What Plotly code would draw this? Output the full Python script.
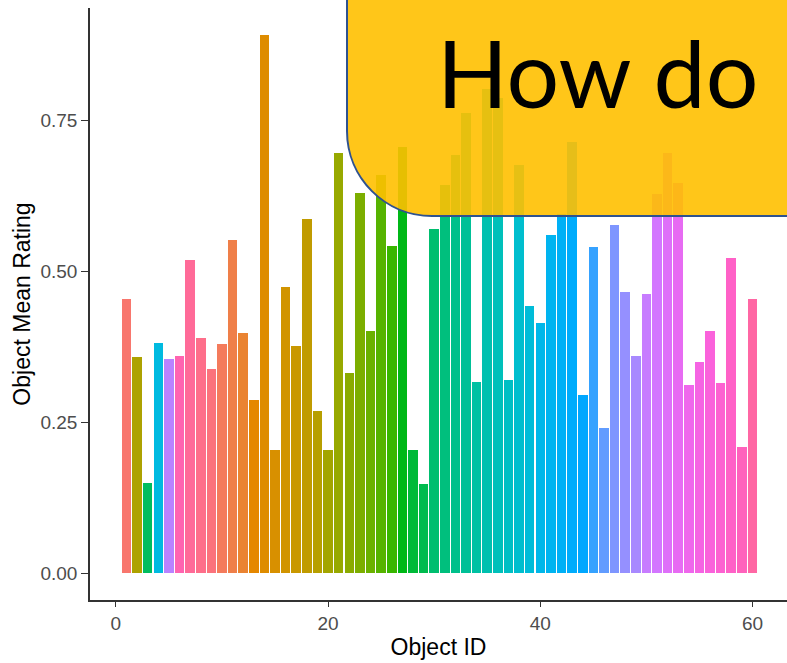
import math
import plotly.graph_objects as go

# Per-object mean ratings (objects 1..60)
object_ids = list(range(1, 61))
mean_rating = [
    0.454, 0.357, 0.150, 0.381, 0.354, 0.360, 0.519, 0.390, 0.338, 0.379,
    0.551, 0.398, 0.287, 0.891, 0.204, 0.473, 0.376, 0.587, 0.269, 0.204,
    0.695, 0.331, 0.630, 0.401, 0.659, 0.541, 0.705, 0.204, 0.147, 0.570,
    0.643, 0.692, 0.762, 0.317, 0.802, 0.787, 0.320, 0.676, 0.443, 0.414,
    0.560, 0.595, 0.714, 0.295, 0.540, 0.241, 0.576, 0.465, 0.360, 0.462,
    0.627, 0.695, 0.646, 0.311, 0.349, 0.400, 0.314, 0.521, 0.209, 0.454,
]
y_ticks = [0.0, 0.25, 0.50, 0.75]
y_tick_text = ["0.00", "0.25", "0.50", "0.75"]
x_ticks = [0, 20, 40, 60]
headline = "How do"


def hcl_to_hex(h, c=100.0, l=65.0):
    """Polar CIE-LUV -> sRGB hex, the same way R's hcl() does it."""
    wx, wy, wz = 95.047, 100.0, 108.883
    t = wx + wy + wz
    x, y = wx / t, wy / t
    un = 2 * x / (6 * y - x + 1.5)
    vn = 4.5 * y / (6 * y - x + 1.5)
    hr = math.radians(h)
    U, V = c * math.cos(hr), c * math.sin(hr)
    Y = wy * (((l + 16) / 116) ** 3 if l > 7.999592 else l / 903.3)
    u = U / (13 * l) + un
    v = V / (13 * l) + vn
    X = 9.0 * Y * u / (4 * v)
    Z = -X / 3 - 5 * Y + 3 * Y / v

    def gam(val):
        return 1.055 * val ** (1 / 2.4) - 0.055 if val > 0.00304 else 12.92 * val

    r = gam((3.240479 * X - 1.537150 * Y - 0.498535 * Z) / wy)
    g = gam((-0.969256 * X + 1.875992 * Y + 0.041556 * Z) / wy)
    b = gam((0.055648 * X - 0.204043 * Y + 1.057311 * Z) / wy)
    rgb = [max(0, min(255, round(255 * max(0.0, min(1.0, q))))) for q in (r, g, b)]
    return "#{:02X}{:02X}{:02X}".format(*rgb)


# Object ID used as a discrete fill: levels sort as text, hues spread evenly
levels = sorted(str(i) for i in object_ids)
n_lv = len(levels)
bar_colors = [hcl_to_hex(15 + 360 * levels.index(str(i)) / n_lv) for i in object_ids]

W, H = 787, 663
ML, MR, MT, MB = 90, 0, 8, 63
PW, PH = W - ML - MR, H - MT - MB


def px_x(p):
    return (p - ML) / PW


def px_y(p):
    return (H - MB - p) / PH


fig = go.Figure(
    go.Bar(
        x=object_ids,
        y=mean_rating,
        width=0.9,
        marker=dict(color=bar_colors, line=dict(width=0)),
        showlegend=False,
    )
)

axis_font = dict(family="Liberation Sans, Arial, sans-serif", size=19, color="#4D4D4D")
title_font = dict(family="Liberation Sans, Arial, sans-serif", size=23, color="#000000")

fig.update_xaxes(
    range=[-2.44, -2.44 + PW / 10.61],
    tickvals=x_ticks,
    ticks="outside",
    ticklen=5,
    tickwidth=1.3,
    tickcolor="#333333",
    showline=True,
    linecolor="#333333",
    linewidth=1.5,
    showgrid=False,
    zeroline=False,
    tickfont=axis_font,
    title=dict(text="Object ID", font=title_font, standoff=6),
)
fig.update_yaxes(
    range=[-0.0445, 0.9355],
    tickvals=y_ticks,
    ticktext=y_tick_text,
    ticks="outside",
    ticklen=7,
    tickwidth=1.3,
    tickcolor="#333333",
    showline=True,
    linecolor="#333333",
    linewidth=1.5,
    showgrid=False,
    zeroline=False,
    tickfont=axis_font,
    title=dict(text="Object Mean Rating", font=title_font, standoff=3),
)

# Rounded callout panel over the upper right of the chart
bx_l, bx_b, rad, k = 347, 216, 85, 0.5523
bx_r, bx_t = 820, -20
path = (
    f"M {px_x(bx_l)},{px_y(bx_t)} "
    f"L {px_x(bx_l)},{px_y(bx_b - rad)} "
    f"C {px_x(bx_l)},{px_y(bx_b - rad + k * rad)} "
    f"{px_x(bx_l + rad - k * rad)},{px_y(bx_b)} "
    f"{px_x(bx_l + rad)},{px_y(bx_b)} "
    f"L {px_x(bx_r)},{px_y(bx_b)} "
    f"L {px_x(bx_r)},{px_y(bx_t)} Z"
)
fig.add_shape(
    type="path",
    path=path,
    xref="paper",
    yref="paper",
    fillcolor="rgba(255,192,0,0.9)",
    line=dict(color="#2F528F", width=2),
    layer="above",
)
fig.add_annotation(
    text=headline,
    xref="paper",
    yref="paper",
    x=px_x(435),
    y=px_y(72),
    xanchor="left",
    yanchor="middle",
    showarrow=False,
    font=dict(family="Lato, Open Sans, sans-serif", size=93, color="#000000"),
)

fig.update_layout(
    width=W,
    height=H,
    margin=dict(l=ML, r=MR, t=MT, b=MB, pad=0),
    paper_bgcolor="white",
    plot_bgcolor="white",
    bargap=0,
)

fig.write_html("out.html")
